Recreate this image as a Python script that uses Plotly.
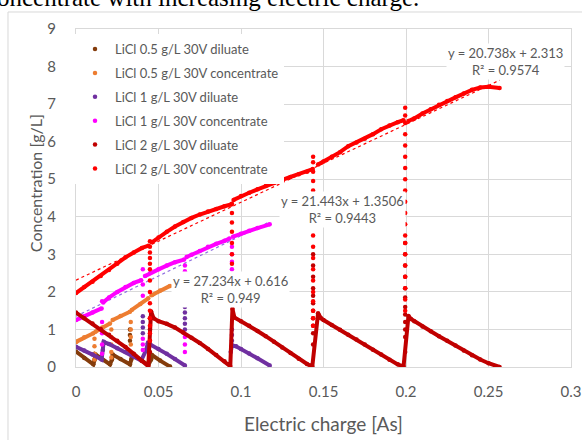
import plotly.graph_objects as go

# ---------------- data ----------------
N = None
# LiCl 0.5 g/L 30V diluate
dil05_x = [0, 0.005, 0.0105, 0.0113, 0.0118, 0.015, 0.0206, 0.0218, 0.0223, 0.027, 0.0327,
           0.0335, 0.034, 0.039, 0.0438, 0.0455, 0.046, 0.051, 0.057]
dil05_y = [0.41, 0.24, 0.07, 0.2, 0.33, 0.24, 0.07, 0.2, 0.33, 0.21, 0.07,
           0.2, 0.33, 0.2, 0.05, 0.2, 0.32, 0.17, 0.01]
dil05_tx = [0.0327, 0.0327, 0.0327, 0.0438, 0.0438]
dil05_ty = [1.0, 0.85, 0.7, 0.6, 0.45]

# LiCl 0.5 g/L 30V concentrate
con05_x = [0, 0.005, 0.0105, N, 0.0118, 0.016, 0.0206, N, 0.0222, 0.027, 0.0327, N,
           0.0338, 0.039, 0.0438, N, 0.0458, 0.051, 0.057]
con05_y = [0.67, 0.79, 0.9, N, 0.94, 1.05, 1.16, N, 1.25, 1.36, 1.47, N,
           1.52, 1.68, 1.83, N, 1.91, 2.04, 2.16]
con05_tx = [0.0112, 0.0112, 0.0112, 0.0112, 0.0214, 0.0214, 0.0214, 0.0214, 0.0214,
            0.0332, 0.0332, 0.0332, 0.0332]
con05_ty = [0.75, 0.55, 0.35, 0.2, 1.0, 0.8, 0.6, 0.4, 0.25, 1.2, 1.0, 0.8, 0.6]

# LiCl 1 g/L 30V diluate
dil1_x = [0, 0.005, 0.01, 0.0155, 0.0163, 0.0168, 0.02, 0.025, 0.03, 0.035, 0.0395,
          0.0425, 0.0435, 0.045, 0.05, 0.055, 0.06, 0.066, N,
          0.0938, 0.0945, 0.097, 0.1, 0.105, 0.11, 0.1174]
dil1_y = [0.54, 0.44, 0.33, 0.2, 0.45, 0.67, 0.61, 0.5, 0.4, 0.28, 0.17,
          0.45, 0.63, 0.6, 0.48, 0.35, 0.21, 0.04, N,
          0.4, 0.58, 0.55, 0.48, 0.36, 0.23, 0.04]
dil1_tx = [0.0405, 0.0405, 0.0405, 0.0405, 0.066, 0.066, 0.066, 0.066, 0.066, 0.0945, 0.0945, 0.0945]
dil1_ty = [1.35, 1.2, 1.05, 0.9, 1.6, 1.45, 1.3, 1.15, 1.0, 1.0, 0.85, 0.7]

# LiCl 1 g/L 30V concentrate
con1_x = [0, 0.005, 0.01, 0.0155, N, 0.0165, 0.02, 0.025, 0.03, 0.035, 0.0395, N,
          0.0418, 0.045, 0.05, 0.055, 0.06, 0.0655, N,
          0.067, 0.07, 0.075, 0.08, 0.085, 0.09, 0.093, N,
          0.0952, 0.1, 0.105, 0.11, 0.1174]
con1_y = [1.25, 1.35, 1.45, 1.56, N, 1.72, 1.85, 2.0, 2.13, 2.24, 2.31, N,
          2.42, 2.5, 2.6, 2.7, 2.79, 2.86, N,
          2.93, 2.99, 3.09, 3.2, 3.28, 3.36, 3.42, N,
          3.47, 3.55, 3.63, 3.7, 3.8]
con1_tx = [0.0158, 0.0158, 0.0158, 0.0158, 0.0158, 0.0405, 0.0405, 0.0405, 0.0405, 0.0405, 0.0405,
           0.066, 0.066, 0.066, 0.066, 0.066, 0.0945, 0.0945, 0.0945, 0.0945]
con1_ty = [1.75, 1.2, 0.9, 0.6, 0.35, 2.6, 2.2, 1.9, 0.75, 0.6, 0.45,
           2.7, 2.55, 0.8, 0.6, 0.4, 3.2, 3.0, 2.8, 2.6]

# LiCl 2 g/L 30V diluate
dil2_x = [0, 0.005, 0.01, 0.015, 0.02, 0.025, 0.03, 0.035, 0.04, 0.0438,
          0.0455, 0.047, 0.05, 0.055, 0.06, 0.065, 0.07, 0.075, 0.08, 0.085, 0.09, 0.0935,
          0.0948, 0.096, 0.1, 0.105, 0.11, 0.115, 0.12, 0.125, 0.13, 0.135, 0.14, 0.1432,
          0.1467, 0.1485, 0.15, 0.155, 0.16, 0.165, 0.17, 0.175, 0.18, 0.185, 0.19, 0.195, 0.1985,
          0.2015, 0.203, 0.205, 0.21, 0.215, 0.22, 0.225, 0.23, 0.235, 0.24, 0.245, 0.25, 0.2567]
dil2_y = [1.45, 1.3, 1.16, 1.01, 0.86, 0.7, 0.53, 0.35, 0.16, 0.02,
          1.48, 1.3, 1.22, 1.15, 1.05, 0.92, 0.78, 0.64, 0.48, 0.32, 0.15, 0.02,
          1.55, 1.32, 1.22, 1.1, 0.96, 0.82, 0.67, 0.52, 0.37, 0.22, 0.08, 0.01,
          1.43, 1.3, 1.25, 1.12, 0.99, 0.86, 0.73, 0.6, 0.46, 0.33, 0.19, 0.07, 0.01,
          1.36, 1.28, 1.22, 1.08, 0.95, 0.82, 0.7, 0.57, 0.44, 0.31, 0.2, 0.1, 0.0]
dil2_tx = [0.0448, 0.0448, 0.0448, 0.0448,
           0.1437, 0.1437, 0.1437, 0.1437, 0.1437, 0.1437, 0.1437, 0.1437, 0.1437, 0.1437, 0.1437,
           0.1995, 0.1995, 0.1995, 0.1995, 0.1995, 0.1995, 0.1995, 0.1995, 0.1995, 0.1995, 0.1995, 0.1995]
dil2_ty = [1.3, 1.0, 0.7, 0.4,
           3.0, 2.7, 2.4, 2.1, 1.9, 1.7, 1.5, 1.3, 1.1, 0.9, 0.6,
           3.3, 3.0, 2.7, 2.4, 2.1, 1.85, 1.6, 1.4, 1.2, 1.0, 0.8, 0.4]

# LiCl 2 g/L 30V concentrate
con2_x = [0, 0.005, 0.01, 0.015, 0.02, 0.025, 0.03, 0.035, 0.04, 0.044, N,
          0.046, 0.05, 0.055, 0.06, 0.065, 0.07, 0.075, 0.08, 0.085, 0.09, 0.094, N,
          0.0955, 0.1, 0.105, 0.11, 0.115, 0.12, 0.125, 0.13, 0.135, 0.14, 0.1435, N,
          0.1467, 0.15, 0.155, 0.16, 0.165, 0.17, 0.175, 0.18, 0.185, 0.19, 0.195, 0.1985, N,
          0.2015, 0.205, 0.21, 0.215, 0.22, 0.225, 0.23, 0.235, 0.24, 0.245, 0.25, 0.2567]
con2_y = [1.97, 2.13, 2.27, 2.42, 2.58, 2.75, 2.92, 3.05, 3.17, 3.23, N,
          3.32, 3.45, 3.6, 3.74, 3.86, 3.97, 4.06, 4.14, 4.21, 4.28, 4.33, N,
          4.45, 4.55, 4.64, 4.73, 4.82, 4.9, 4.98, 5.06, 5.13, 5.2, 5.27, N,
          5.39, 5.47, 5.6, 5.72, 5.88, 5.98, 6.08, 6.2, 6.33, 6.43, 6.52, 6.57, N,
          6.55, 6.62, 6.75, 6.86, 6.98, 7.08, 7.18, 7.28, 7.38, 7.44, 7.46, 7.43]
con2_tx = [0.0448] * 14 + [0.0945] * 7 + [0.1437] * 18 + [0.1995] * 20
con2_ty = [3.35, 3.2, 3.05, 2.9, 2.75, 2.6, 2.3, 2.0, 1.7, 1.5, 1.3, 1.1, 0.9, 0.7,
           4.35, 4.1, 3.85, 3.6, 3.3, 3.0, 2.75,
           5.6, 5.45, 5.2, 4.95, 4.7, 4.4, 4.1, 3.8, 3.5, 3.2, 2.9, 2.6, 2.3, 2.0, 1.75, 1.5, 1.3, 1.1,
           6.9, 6.7, 6.5, 6.2, 5.9, 5.6, 5.3, 5.0, 4.7, 4.4, 4.1, 3.8, 3.5, 3.3, 3.0, 2.7, 2.4, 2.1, 1.8, 1.5]

# linear trendlines: slope, intercept, x-range, label
trend_con05 = dict(m=27.234, b=0.616, x=[0, 0.057], r2="0.949")
trend_con1 = dict(m=21.443, b=1.3506, x=[0, 0.1174], r2="0.9443")
trend_con2 = dict(m=20.738, b=2.313, x=[0, 0.2567], r2="0.9574")

x_ticks = [0, 0.05, 0.1, 0.15, 0.2, 0.25, 0.3]
x_ticktext = ["0", "0.05", "0.1", "0.15", "0.2", "0.25", "0.3"]
y_ticks = [0, 1, 2, 3, 4, 5, 6, 7, 8, 9]

names = ["LiCl 0.5 g/L 30V diluate", "LiCl 0.5 g/L 30V concentrate",
         "LiCl 1 g/L 30V diluate", "LiCl 1 g/L 30V concentrate",
         "LiCl 2 g/L 30V diluate", "LiCl 2 g/L 30V concentrate"]
colors = ["#843C0C", "#ED7D31", "#7030A0", "#FF00FF", "#C00000", "#FF0000"]

series = [(dil05_x, dil05_y, dil05_tx, dil05_ty),
          (con05_x, con05_y, con05_tx, con05_ty),
          (dil1_x, dil1_y, dil1_tx, dil1_ty),
          (con1_x, con1_y, con1_tx, con1_ty),
          (dil2_x, dil2_y, dil2_tx, dil2_ty),
          (con2_x, con2_y, con2_tx, con2_ty)]

FONT = "Lato, 'Open Sans', sans-serif"
GREY = "#595959"
GRID = "#D9D9D9"

fig = go.Figure()

# trendlines (drawn beneath data)
trend_specs = [(trend_con05, "#ED7D31"), (trend_con1, "#8F6FE0"), (trend_con2, "#FF0000")]
for t, c in trend_specs:
    xs = t["x"]
    ys = [t["m"] * v + t["b"] for v in xs]
    fig.add_trace(go.Scatter(x=xs, y=ys, mode="lines", showlegend=False, hoverinfo="skip",
                             line=dict(color=c, width=1.2, dash="dot")))

for (sx, sy, tx, ty), name, col in zip(series, names, colors):
    fig.add_trace(go.Scatter(x=sx, y=sy, mode="lines+markers", name=name, legendgroup=name,
                             showlegend=False, connectgaps=False,
                             line=dict(color=col, width=4),
                             marker=dict(color=col, size=4.5)))
    fig.add_trace(go.Scatter(x=tx, y=ty, mode="markers", name=name, legendgroup=name,
                             showlegend=True,
                             marker=dict(color=col, size=4.5)))

annotations = []
label_pos = [(trend_con05, 0.0938, 2.07), (trend_con1, 0.1615, 4.2), (trend_con2, 0.2603, 8.14)]
for t, ax, ay in label_pos:
    annotations.append(dict(x=ax, y=ay, xref="x", yref="y", showarrow=False,
                            text=f"y = {t['m']}x + {t['b']}<br>R² = {t['r2']}",
                            font=dict(family=FONT, size=13, color=GREY),
                            bgcolor="white", align="center"))

annotations.append(dict(x=0.5, y=-0.1657, xref="paper", yref="paper", showarrow=False,
                        text="Electric charge [As]", font=dict(family=FONT, size=19, color=GREY),
                        xanchor="center", yanchor="middle"))
annotations.append(dict(x=-0.0828, y=0.544, xref="paper", yref="paper", showarrow=False,
                        text="Concentration [g/L]", textangle=-90,
                        font=dict(family=FONT, size=16, color=GREY),
                        xanchor="center", yanchor="middle"))
annotations.append(dict(x=-0.163, y=1.094, xref="paper", yref="paper", showarrow=False,
                        text="oncentrate with increasing electric charge.",
                        font=dict(family="Liberation Serif, serif", size=25, color="black"),
                        xanchor="left", yanchor="middle"))

fig.update_layout(
    width=582, height=440, autosize=False,
    margin=dict(l=76, r=11, t=29, b=73, autoexpand=False),
    paper_bgcolor="white", plot_bgcolor="white",
    showlegend=True, hovermode=False,
    legend=dict(x=-0.002, y=0.985, xanchor="left", yanchor="top", bgcolor="white",
                font=dict(family=FONT, size=13, color=GREY), traceorder="grouped",
                tracegroupgap=4, itemsizing="trace"),
    annotations=annotations,
    shapes=[dict(type="rect", xref="paper", yref="paper", x0=-0.1374, y0=-0.3, x1=1.1, y1=1.0503,
                 line=dict(color=GRID, width=1), fillcolor="rgba(0,0,0,0)", layer="below")],
    xaxis=dict(range=[0, 0.3], tickvals=x_ticks, ticktext=x_ticktext, showgrid=True, gridcolor=GRID,
               zeroline=False, showline=True, linecolor=GRID, mirror=True, automargin=False,
               tickfont=dict(family=FONT, size=15, color=GREY), ticks="", ticklabelstandoff=11),
    yaxis=dict(range=[0, 9], tickvals=y_ticks, showgrid=True, gridcolor=GRID,
               zeroline=False, showline=True, linecolor=GRID, mirror=True, automargin=False,
               tickfont=dict(family=FONT, size=15, color=GREY), ticks="", ticklabelstandoff=16),
)

fig.write_html("out.html", config={"displayModeBar": False, "staticPlot": True},
               post_script="document.body.style.margin='0px';document.body.style.overflow='hidden';")
